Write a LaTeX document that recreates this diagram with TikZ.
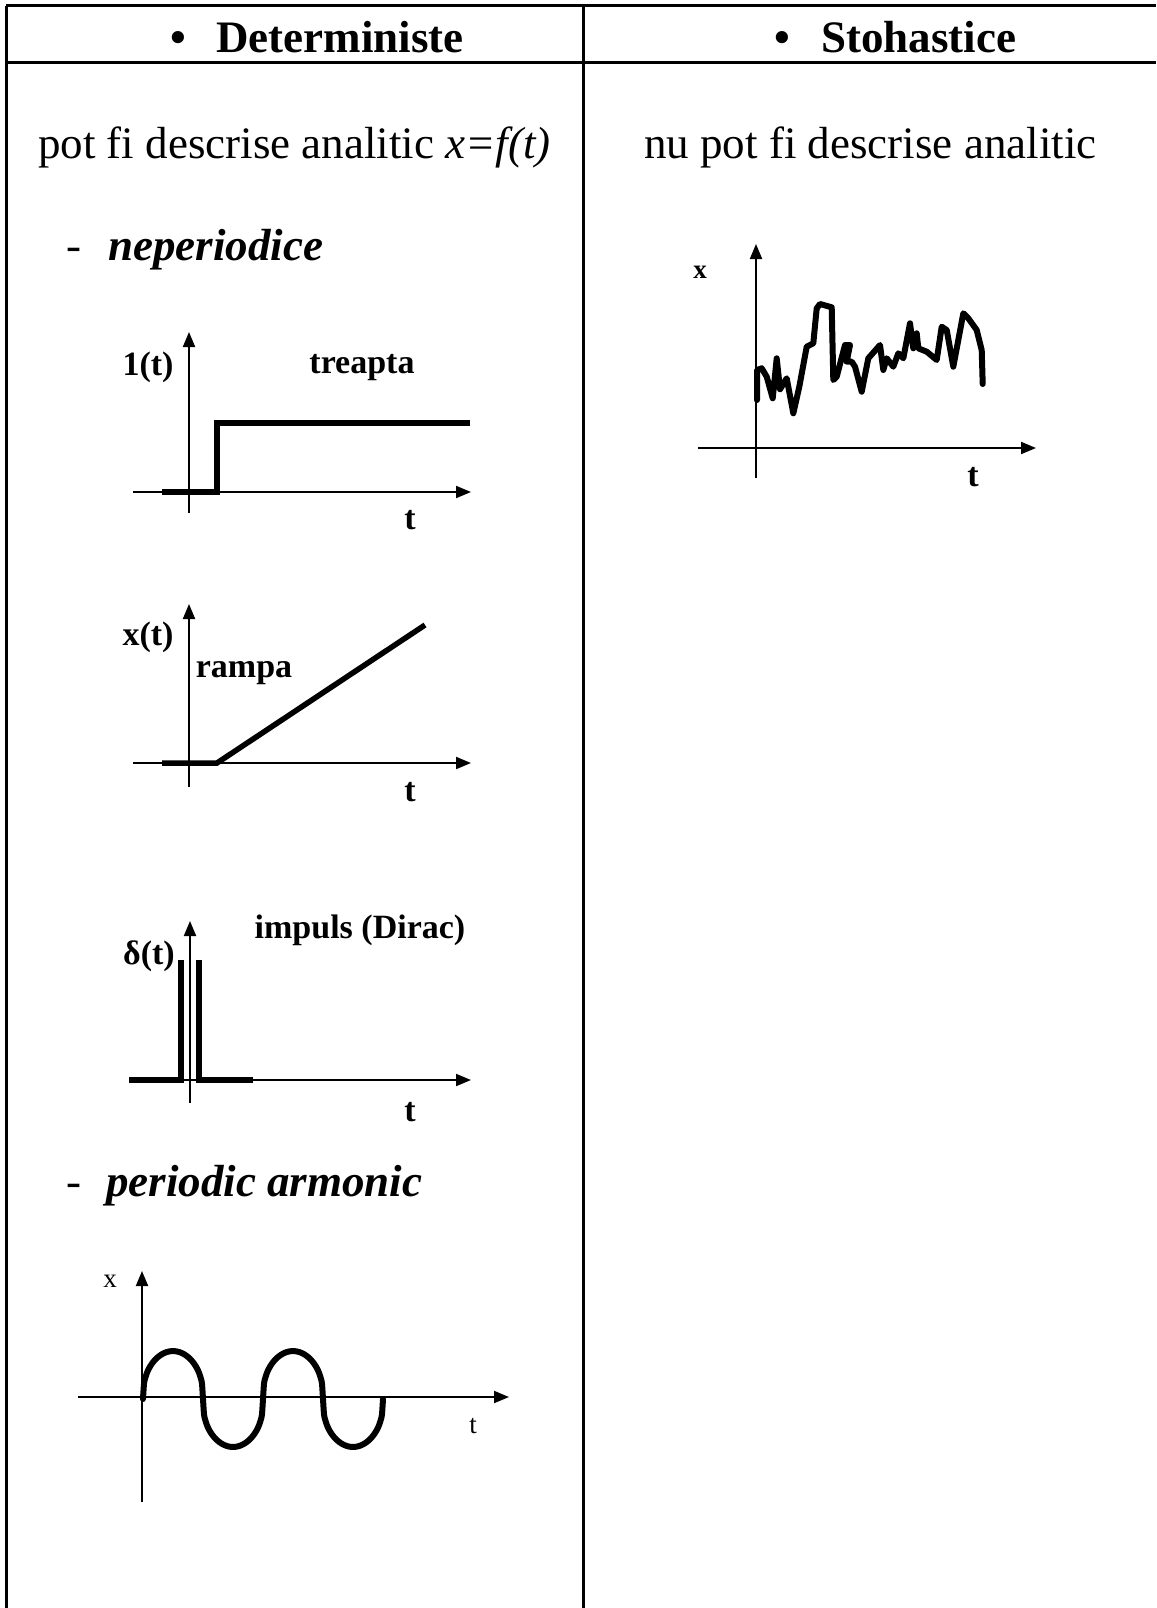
\documentclass[tikz,border=0pt]{standalone}
\usepackage{fontspec}
\setmainfont{Liberation Serif}
\usetikzlibrary{arrows.meta}
\begin{document}
\begin{tikzpicture}[x=1pt,y=-1pt,
  rule/.style={line width=3pt},
  axisarrow/.style={line width=2pt,-{Triangle[length=15pt,width=12pt]}},
  axisline/.style={line width=2pt},
  signal/.style={line width=5.5pt,line join=miter},
  wave/.style={line width=6pt,line cap=round,line join=round},
  big/.style={font=\fontsize{45}{54}\selectfont,inner sep=0pt},
  bigbold/.style={font=\fontsize{45}{54}\selectfont\bfseries,inner sep=0pt},
  bigbi/.style={font=\fontsize{45}{54}\selectfont\bfseries\itshape,inner sep=0pt},
  lbl/.style={font=\fontsize{34}{40}\selectfont\bfseries,inner sep=0pt},
  smallbold/.style={font=\fontsize{27}{32}\selectfont\bfseries,inner sep=0pt},
  small/.style={font=\fontsize{27}{32}\selectfont,inner sep=0pt}]
\useasboundingbox (0,0) rectangle (1156,1608);
\fill[white] (0,0) rectangle (1156,1608);

% table
\coordinate (tl) at (6,6);
\coordinate (tr) at (1156,6);
\coordinate (hl) at (6,63);
\coordinate (hr) at (1156,63);
\coordinate (bl) at (6,1608);
\coordinate (dt) at (583,6);
\coordinate (db) at (583,1608);
\draw[rule] (tl) -- (tr);
\draw[rule] (hl) -- (hr);
\draw[rule] (tl) -- (bl);
\draw[rule] (dt) -- (db);

% headers
\node[bigbold,anchor=base west] (b1) at (170,53) {•};
\node[bigbold,anchor=base west] (h1) at (216,53) {Deterministe};
\node[bigbold,anchor=base west] (b2) at (774,53) {•};
\node[bigbold,anchor=base west] (h2) at (821,53) {Stohastice};

% body texts
\node[big,anchor=base west] (t1) at (38,159) {pot fi descrise analitic \textit{x=f(t)}};
\node[big,anchor=base west] (t2) at (644,159) {nu pot fi descrise analitic};
\node[big,anchor=base west] (d1) at (66,260) {-};
\node[bigbi,anchor=base west] (np) at (108,260) {neperiodice};
\node[big,anchor=base west] (d2) at (66,1196) {-};
\node[bigbi,anchor=base west] (pa) at (106,1196) {periodic armonic};

% step
\coordinate (s-yb) at (189,513);
\coordinate (s-yt) at (189,332);
\coordinate (s-xl) at (133,492);
\coordinate (s-xr) at (471,492);
\draw[axisarrow] (s-yb) -- (s-yt);
\draw[axisarrow] (s-xl) -- (s-xr);
\coordinate (s1) at (162,492);
\coordinate (s2) at (217,492);
\coordinate (s3) at (217,423);
\coordinate (s4) at (470,423);
\draw[signal] (s1) -- (s2) -- (s3) -- (s4);
\node[lbl] (s-lab) at (148,367) {1(t)};
\node[lbl] (s-name) at (362,368) {treapta};
\node[lbl] (s-t) at (410,520) {t};

% ramp
\coordinate (r-yb) at (189,787);
\coordinate (r-yt) at (189,604);
\coordinate (r-xl) at (133,763);
\coordinate (r-xr) at (471,763);
\draw[axisarrow] (r-yb) -- (r-yt);
\draw[axisarrow] (r-xl) -- (r-xr);
\coordinate (r1) at (162,763);
\coordinate (r2) at (217,763);
\coordinate (r3) at (425,625);
\draw[signal] (r1) -- (r2) -- (r3);
\node[lbl] (r-lab) at (148,637) {x(t)};
\node[lbl] (r-name) at (244,673) {rampa};
\node[lbl] (r-t) at (410,792) {t};

% impulse
\coordinate (i-yb) at (190,1103);
\coordinate (i-yt) at (190,921);
\coordinate (i-xl) at (130,1080);
\coordinate (i-xr) at (471,1080);
\draw[axisarrow] (i-yb) -- (i-yt);
\draw[axisarrow] (i-xl) -- (i-xr);
\coordinate (i1) at (129,1080);
\coordinate (i2) at (181,1080);
\coordinate (i3) at (181,960);
\coordinate (i4) at (199,960);
\coordinate (i5) at (199,1080);
\coordinate (i6) at (253,1080);
\draw[signal] (i1) -- (i2) -- (i3);
\draw[signal] (i4) -- (i5) -- (i6);
\node[lbl] (i-lab) at (149,956) {δ(t)};
\node[lbl] (i-name) at (360,930) {impuls (Dirac)};
\node[lbl] (i-t) at (410,1112) {t};

% periodic
\coordinate (p-yb) at (142,1502);
\coordinate (p-yt) at (142,1271);
\coordinate (p-xl) at (78,1397);
\coordinate (p-xr) at (509,1397);
\draw[axisarrow] (p-yb) -- (p-yt);
\draw[axisarrow] (p-xl) -- (p-xr);
\draw[wave] plot[domain=0:240,samples=241,smooth]
  ({143+\x},{1399-48*sin(3*\x)/pow(abs(sin(3*\x))+0.002,0.62)});
\node[small] (p-x) at (110,1281) {x};
\node[small] (p-t) at (473,1426) {t};

% stochastic
\coordinate (n-yb) at (756,478);
\coordinate (n-yt) at (756,244);
\coordinate (n-xl) at (698,448);
\coordinate (n-xr) at (1036,448);
\draw[axisarrow] (n-yb) -- (n-yt);
\draw[axisarrow] (n-xl) -- (n-xr);
\draw[wave] (757,400) -- (757,370) -- (761.7,368.3) -- (766.7,376.7) -- (772.7,398.3)
  -- (776.7,358.3) -- (780,389.3) -- (786.7,378.3) -- (793.3,413.3) -- (799.3,386.7)
  -- (806.7,346.7) -- (813.3,343.3) -- (816.7,308.3) -- (820,304) -- (831.7,307.3)
  -- (833.3,380) -- (836.7,376.7) -- (845,345) -- (850,345) -- (846.7,361.7)
  -- (851.7,361.7) -- (855,366.7) -- (861.7,391.7) -- (868.3,358.3) -- (880,345)
  -- (883.3,370) -- (886.7,358.3) -- (893.3,366.7) -- (898.3,353.3) -- (903.3,358.3)
  -- (910,323.3) -- (913.3,348.3) -- (916.7,333.3) -- (918.3,348.3) -- (926.7,351.7)
  -- (936.7,360) -- (941.7,326.7) -- (946.7,330) -- (953.3,366.7) -- (963.3,313.3)
  -- (968.3,318.3) -- (976.7,330) -- (981.7,350) -- (982.7,384);
\node[smallbold] (n-x) at (700,272) {x};
\node[lbl] (n-t) at (973,477) {t};
\end{tikzpicture}
\end{document}
